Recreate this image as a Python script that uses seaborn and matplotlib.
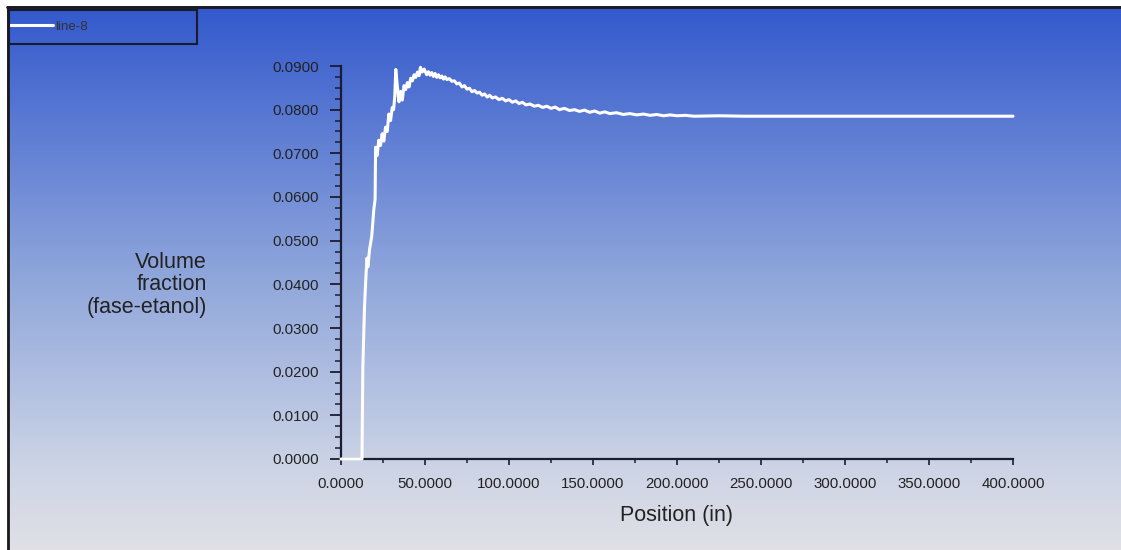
import numpy as np
import matplotlib
matplotlib.use("Agg")
import matplotlib.pyplot as plt
import seaborn as sns
import pandas as pd
from matplotlib.lines import Line2D
from matplotlib.patches import Rectangle

# ---- data ----
position = [0, 12.0, 12.5, 13.0, 14.0, 15.0, 15.5, 16.0, 17.0, 18.3, 19.5, 20.3, 20.6,
            21.5, 22.5, 23.5, 24.5, 25.5, 26.5, 27.5, 28.5, 29.5, 30.5, 31.3, 32.0,
            32.6, 33.5, 34.5, 35.5, 36.5, 37.5, 38.5, 39.5, 40.5, 41.5, 42.5, 43.5,
            44.5, 45.5, 46.5, 47.3, 48.3, 49.5, 51, 52, 53, 54, 55, 56, 57, 58, 59,
            60, 61, 62, 63, 64.5, 66, 67.5, 69, 70.5, 72, 73.5, 75, 76.5, 78, 79.5,
            81, 82.5, 84, 85.5, 87, 88.5, 90, 92, 94, 96, 98, 100, 102, 104, 106,
            108, 110, 112.5, 115, 117.5, 120, 122.5, 125, 127.5, 130, 133, 136, 139,
            142, 145, 148, 151, 154, 157, 160, 164, 168, 172, 176, 180, 184, 188,
            192, 196, 200, 205, 210, 225, 240, 260, 280, 300, 330, 360, 400]
volume_fraction = [0.0, 0.0, 0.0, 0.021, 0.035, 0.043, 0.046, 0.044, 0.048, 0.051,
                   0.057, 0.0595, 0.0714, 0.0695, 0.0730, 0.0718, 0.0745, 0.0728,
                   0.0760, 0.0750, 0.0790, 0.0775, 0.0805, 0.0800, 0.0830, 0.0892,
                   0.0855, 0.0818, 0.0842, 0.0822, 0.0855, 0.0846, 0.0862, 0.0852,
                   0.0872, 0.0866, 0.0880, 0.0874, 0.0886, 0.0878, 0.0897, 0.0886,
                   0.0893, 0.0880, 0.0887, 0.0879, 0.0885, 0.0876, 0.0883, 0.0874,
                   0.0880, 0.0873, 0.0877, 0.0870, 0.0875, 0.0869, 0.0871, 0.0865,
                   0.0866, 0.0859, 0.0861, 0.0852, 0.0855, 0.0847, 0.0849, 0.0841,
                   0.0844, 0.0838, 0.0840, 0.0833, 0.0836, 0.0829, 0.0833, 0.0827,
                   0.0829, 0.0823, 0.0826, 0.0820, 0.0823, 0.0817, 0.0820, 0.0814,
                   0.0817, 0.0811, 0.0813, 0.0808, 0.0810, 0.0805, 0.0808, 0.0803,
                   0.0806, 0.0800, 0.0803, 0.0798, 0.0800, 0.0796, 0.0799, 0.0794,
                   0.0797, 0.0792, 0.0795, 0.0791, 0.0793, 0.0789, 0.0791, 0.0788,
                   0.0790, 0.0787, 0.0789, 0.0786, 0.0788, 0.0786, 0.0787, 0.0785,
                   0.0786, 0.0785, 0.0785, 0.0785, 0.0785, 0.0785, 0.0785, 0.0785]
x_ticks = [0, 50, 100, 150, 200, 250, 300, 350, 400]
y_ticks = [0.00, 0.01, 0.02, 0.03, 0.04, 0.05, 0.06, 0.07, 0.08, 0.09]
series_name = "line-8"
x_label = "Position (in)"
y_label = "Volume\nfraction\n(fase-etanol)"

df = pd.DataFrame({"pos": position, "vf": volume_fraction})

sns.set_style("ticks")
plt.rcParams["font.family"] = ["Liberation Sans", "DejaVu Sans"]

W, H = 1121, 550
fig = plt.figure(figsize=(W / 100, H / 100), dpi=100)

# gradient background
bg = fig.add_axes([0, 0, 1, 1], zorder=-10)
stops = np.array([0.0, 0.5, 0.85, 1.0])
cols = np.array([[0.19, 0.34, 0.80],
                 [0.56, 0.65, 0.86],
                 [0.80, 0.83, 0.90],
                 [0.88, 0.88, 0.90]])
t = np.linspace(0, 1, 400)
grad = np.stack([np.interp(t, stops, cols[:, i]) for i in range(3)], axis=-1)
grad = np.repeat(grad[:, None, :], 2, axis=1)
bg.imshow(grad, aspect="auto", extent=[0, 1, 0, 1], origin="upper")
bg.set_axis_off()

# screenshot margins/border
fig.patches.append(Rectangle((0, 1 - 6 / H), 1, 6 / H, transform=fig.transFigure,
                             facecolor="white", edgecolor="none", zorder=5))
fig.patches.append(Rectangle((0, 0), 7 / W, 1, transform=fig.transFigure,
                             facecolor="white", edgecolor="none", zorder=5))
fig.lines.append(Line2D([7 / W, 1], [1 - 7 / H, 1 - 7 / H], transform=fig.transFigure,
                        color="#1a1a1a", lw=2, zorder=6))
fig.lines.append(Line2D([8 / W, 8 / W], [0, 1 - 7 / H], transform=fig.transFigure,
                        color="#1a1a1a", lw=2, zorder=6))
# legend box
fig.patches.append(Rectangle((9 / W, 1 - 44 / H), 188 / W, 34 / H, transform=fig.transFigure,
                             facecolor="none", edgecolor="#1a1a2a", lw=1.5, zorder=6))

ax = fig.add_axes([341 / W, (H - 459) / H, 672 / W, 393 / H])
ax.set_facecolor("none")
sns.lineplot(data=df, x="pos", y="vf", ax=ax, color="white", linewidth=2.2,
             estimator=None, sort=False, label=series_name, zorder=10, clip_on=False)

ax.set_xlim(0, 400)
ax.set_ylim(0, 0.09)
ax.set_xticks(x_ticks)
ax.set_yticks(y_ticks)
ax.set_xticks([25 + v for v in x_ticks[:-1]], minor=True)
ax.set_yticks([v + d for v in y_ticks[:-1] for d in (0.0025, 0.005, 0.0075)], minor=True)
ax.set_xticklabels([f"{v:.4f}" for v in x_ticks])
ax.set_yticklabels([f"{v:.4f}" for v in y_ticks])

axis_col = "#1c1c30"
for s in ["top", "right"]:
    ax.spines[s].set_visible(False)
for s in ["left", "bottom"]:
    ax.spines[s].set_color(axis_col)
    ax.spines[s].set_linewidth(1.6)
ax.tick_params(axis="y", which="major", length=8, width=1.3, color=axis_col,
               labelsize=10.8, labelcolor="#222222", pad=8)
ax.tick_params(axis="y", which="minor", length=4, width=1.1, color=axis_col)
ax.tick_params(axis="x", which="major", length=4, width=1.2, color=axis_col,
               labelsize=10.8, labelcolor="#222222", pad=9)
ax.tick_params(axis="x", which="minor", length=3, width=1.1, color=axis_col)

ax.set_xlabel(x_label, fontsize=15.5, color="#222222", labelpad=10)
ax.set_ylabel("")
fig.text(207 / W, 1 - 285 / H, y_label, ha="right", va="center", fontsize=15.5,
         color="#222222", linespacing=1.12)

leg = ax.legend(loc="center left", bbox_to_anchor=(9 / W, 1 - 27 / H),
                bbox_transform=fig.transFigure, borderaxespad=0, borderpad=0.1,
                frameon=False, fontsize=9.5, handlelength=3.2, handletextpad=0.2)
for txt in leg.get_texts():
    txt.set_color("#333333")

fig.savefig("out.png", dpi=100)
